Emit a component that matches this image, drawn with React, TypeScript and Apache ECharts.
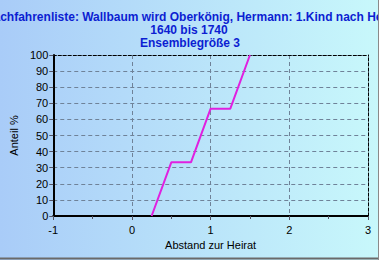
import React, { useEffect, useRef } from "react";
import * as echarts from "echarts";

const titleLines = [
  "Nachfahrenliste: Wallbaum wird Oberkönig, Hermann: 1.Kind nach Heirat",
  "1640 bis 1740",
  "Ensemblegröße 3",
];
const xValues = [0.25, 0.5, 0.75, 1, 1.25, 1.5];
const yValues = [0, 33.33, 33.33, 66.67, 66.67, 100];
const xAxisName = "Abstand zur Heirat";
const yAxisName = "Anteil %";

export default function App() {
  const ref = useRef<HTMLDivElement>(null);
  useEffect(() => {
    document.body.style.margin = "0";
    const chart = echarts.init(ref.current!, null, { renderer: "svg" });
    const gridColor = "#6f8298";
    const titleFont = {
      fontFamily: "Liberation Sans, Arial, sans-serif",
      fontSize: 12,
      fontWeight: "bold",
      fill: "#0c1ed2",
      textAlign: "center",
      textVerticalAlign: "middle",
    };
    chart.setOption({
      animation: false,
      backgroundColor: {
        type: "linear",
        x: 0, y: 0, x2: 1, y2: 0,
        colorStops: [
          { offset: 0, color: "#a9ccf8" },
          { offset: 1, color: "#c8f8fb" },
        ],
      },
      graphic: [
        { type: "text", x: 193, y: 16.5, style: { ...titleFont, text: titleLines[0] } },
        { type: "text", x: 189, y: 29.5, style: { ...titleFont, text: titleLines[1] } },
        { type: "text", x: 190, y: 42.5, style: { ...titleFont, text: titleLines[2] } },
        { type: "line", shape: { x1: 0, y1: 258.5, x2: 379, y2: 258.5 }, style: { stroke: "#6a6a6a", lineWidth: 2 } },
        { type: "line", shape: { x1: 378.5, y1: 0, x2: 378.5, y2: 260 }, style: { stroke: "#8a8a8a", lineWidth: 1 } },
      ],
      grid: { left: 52, right: 11, top: 55, bottom: 44 },
      xAxis: [
        {
          type: "value",
          min: -1,
          max: 3,
          interval: 1,
          name: xAxisName,
          nameLocation: "middle",
          nameGap: 22,
          nameTextStyle: { fontFamily: "Liberation Sans, Arial", fontSize: 11, color: "#000" },
          axisLine: { show: true, onZero: false, lineStyle: { color: "#000", width: 2 } },
          axisTick: { show: true, length: 4, lineStyle: { color: "#556" } },
          minorTick: { show: true, splitNumber: 2, length: 3, lineStyle: { color: "#556" } },
          axisLabel: { fontFamily: "Liberation Sans, Arial", fontSize: 11, color: "#000", margin: 8 },
          splitLine: { show: true, lineStyle: { color: gridColor, type: [4, 3], width: 1 } },
        },
        {
          type: "value",
          min: -1,
          max: 3,
          position: "top",
          axisLine: { show: true, onZero: false, lineStyle: { color: "#000", type: [3, 2], width: 1 } },
          axisTick: { show: false },
          axisLabel: { show: false },
          splitLine: { show: false },
        },
      ],
      yAxis: [
        {
          type: "value",
          min: 0,
          max: 100,
          interval: 10,
          name: yAxisName,
          nameLocation: "middle",
          nameGap: 28,
          nameTextStyle: { fontFamily: "Liberation Sans, Arial", fontSize: 11, color: "#000" },
          axisLine: { show: true, onZero: false, lineStyle: { color: "#000", width: 2 } },
          axisTick: { show: true, length: 4, lineStyle: { color: "#556" } },
          axisLabel: { fontFamily: "Liberation Sans, Arial", fontSize: 11, color: "#000", margin: 5 },
          splitLine: { show: true, lineStyle: { color: gridColor, type: [4, 3], width: 1 } },
        },
        {
          type: "value",
          min: 0,
          max: 100,
          position: "right",
          axisLine: { show: true, onZero: false, lineStyle: { color: "#000", type: [3, 2], width: 1 } },
          axisTick: { show: false },
          axisLabel: { show: false },
          splitLine: { show: false },
        },
      ],
      series: [
        {
          type: "line",
          xAxisIndex: 0,
          yAxisIndex: 0,
          data: xValues.map((x, i) => [x, yValues[i]]),
          showSymbol: false,
          lineStyle: { color: "#e020e0", width: 2 },
          z: 1,
        },
      ],
    });
    return () => chart.dispose();
  }, []);
  return <div ref={ref} style={{ width: 379, height: 260 }} />;
}
